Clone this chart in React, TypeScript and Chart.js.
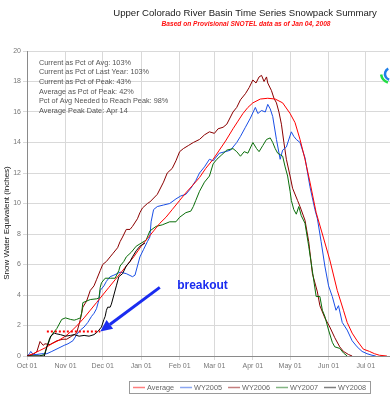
import React, { useEffect, useRef } from "react";
import { Chart, registerables } from "chart.js";

Chart.register(...registerables);

// ---- data ----
const monthTicks = [0, 31, 61, 92, 123, 151, 182, 212, 243, 273];
const monthLabels = ["Oct 01", "Nov 01", "Dec 01", "Jan 01", "Feb 01", "Mar 01", "Apr 01", "May 01", "Jun 01", "Jul 01"];
const yTicks = [0, 2, 4, 6, 8, 10, 12, 14, 16, 18, 20];

const seriesLabels = ["Average", "WY2005", "WY2006", "WY2007", "WY2008"];
const seriesColors = ["#ff0000", "#1a4fe6", "#8b0000", "#0a6e0a", "#000000"];

// [day since Oct 01, SWE inches]
const average = [
  [0, 0], [5, 0.15], [10, 0.35], [15, 0.55], [20, 0.8], [25, 1.0], [31, 1.3], [36, 1.65], [41, 2.05],
  [46, 2.5], [51, 3.0], [56, 3.5], [61, 4.0], [66, 4.5], [71, 5.0], [76, 5.5], [81, 6.0], [86, 6.5],
  [92, 7.2], [97, 7.7], [102, 8.2], [107, 8.7], [112, 9.1], [117, 9.6], [123, 10.2], [128, 10.7],
  [133, 11.15], [139, 11.7], [144, 12.3], [150, 12.9], [155, 13.5], [160, 14.1], [166, 14.9],
  [170, 15.4], [174, 15.9], [178, 16.3], [182, 16.6], [188, 16.85], [194, 16.9], [200, 16.85],
  [206, 16.6], [212, 15.9], [216, 15.3], [220, 14.2], [224, 12.9], [228, 11.4], [233, 9.4],
  [238, 8.0], [244, 6.3], [250, 4.3], [255, 3.0], [258, 2.2], [262, 1.5], [266, 1.0], [271, 0.45],
  [276, 0.3], [280, 0.15], [284, 0.05], [290, 0],
];

const wy2005 = [
  [0, 0], [2, 0.15], [3, 0.3], [5, 0.1], [8, 0.1], [12, 0.15], [16, 0.15], [20, 0.3], [25, 0.5],
  [30, 0.7], [33, 0.8], [37, 1.0], [40, 1.4], [43, 1.7], [46, 1.9], [49, 2.2], [52, 2.6], [54, 2.8],
  [56, 3.1], [58, 3.7], [59, 4.3], [62, 4.6], [64, 4.9], [67, 5.2], [70, 5.3], [75, 5.5], [80, 5.4],
  [85, 5.2], [87, 5.3], [89, 5.9], [91, 6.5], [94, 7.0], [97, 7.5], [99, 7.8], [100, 8.8], [102, 9.6],
  [105, 9.8], [110, 9.9], [115, 10.0], [120, 10.3], [124, 10.5], [128, 10.6], [132, 11.0],
  [136, 11.5], [139, 12.0], [143, 12.4], [147, 12.9], [150, 12.8], [155, 13.3], [160, 13.4],
  [164, 13.5], [169, 14.0], [172, 14.4], [176, 15.0], [180, 15.6], [184, 16.3], [186, 15.9],
  [189, 16.1], [192, 16.0], [194, 16.5], [196, 16.2], [198, 15.7], [201, 14.2], [204, 12.9],
  [206, 13.5], [209, 13.7], [213, 14.7], [215, 14.4], [217, 14.2], [220, 14.0], [224, 13.0],
  [228, 11.1], [232, 9.6], [234, 9.0], [237, 7.5], [240, 5.9], [243, 4.6], [246, 3.9], [249, 3.0],
  [251, 3.3], [254, 2.2], [258, 1.7], [262, 1.0], [266, 0.6], [270, 0.3], [274, 0.15], [278, 0.05],
  [281, 0],
];

const wy2006 = [
  [0, 0], [5, 0.1], [8, 0.3], [10.5, 0.95], [13, 0.7], [14.5, 0.8], [18.5, 0.75], [24, 1.0], [29, 1.1],
  [32, 1.1], [36, 1.3], [40, 1.5], [43, 2.4], [45, 3.2], [48, 3.6], [51, 4.3], [54, 4.6], [56, 5.0],
  [59, 5.6], [61, 6.0], [64, 6.2], [67, 6.5], [69, 6.7], [73, 7.1], [75, 7.5], [77, 7.8], [80, 8.3],
  [83, 8.3], [85, 8.5], [89, 9.0], [91, 9.4], [93, 9.7], [97, 10.0], [99, 10.1], [105, 10.6],
  [110, 11.4], [113, 12.0], [117, 12.3], [120, 12.8], [123, 13.4], [126, 13.6], [130, 13.8],
  [134, 14.0], [139, 14.2], [143, 14.5], [147, 14.7], [151, 14.6], [154, 14.9], [158, 15.0],
  [161, 15.2], [166, 16.0], [169, 16.3], [172, 16.8], [176, 17.2], [179, 17.6], [182, 18.1],
  [184.5, 17.9], [187, 18.3], [189, 18.4], [191, 18.0], [193, 18.3], [194, 17.9], [197, 17.4],
  [199, 16.9], [201, 16.6], [203, 16.0], [205, 15.2], [207, 14.0], [209, 12.9], [212, 11.8],
  [214, 11.0], [218, 10.2], [220, 9.8], [224, 8.9], [227, 7.5], [230, 5.4], [234, 4.2], [236, 3.3],
  [240, 2.5], [244, 1.9], [248, 1.2], [252, 0.6], [255, 0.3], [259, 0.1], [262, 0],
];

const wy2007 = [
  [0, 0], [10, 0], [14, 0.1], [16, 0.6], [18, 1.1], [21, 1.5], [24, 1.8], [28, 2.4], [31, 2.5],
  [35, 2.4], [38, 2.35], [40, 2.4], [43, 2.5], [44, 2.8], [45, 3.5], [48, 3.6], [51, 3.7], [56, 3.75],
  [58, 3.8], [59, 4.5], [60, 4.8], [63, 5.1], [67, 5.1], [71, 5.1], [74, 5.6], [75, 5.9], [78, 6.2],
  [80, 6.5], [84, 6.8], [88, 7.2], [92, 7.4], [96, 7.6], [99, 8.2], [104, 8.5], [109, 8.6], [115, 8.8],
  [120, 8.8], [123, 9.1], [128, 9.4], [132, 9.5], [134, 9.8], [136, 10.2], [139, 10.8], [143, 11.4],
  [147, 11.8], [150, 12.6], [153, 12.9], [157, 13.2], [161, 13.5], [166, 13.6], [169, 13.4],
  [172, 13.1], [175, 13.4], [178, 13.3], [182, 14.0], [185, 13.6], [187, 13.4], [190, 13.8],
  [193, 14.2], [196, 14.3], [198, 14.0], [200, 13.6], [202, 13.3], [204, 13.2], [206, 13.1],
  [208, 12.4], [210, 11.8], [212, 10.8], [213, 10.2], [215, 9.6], [217, 9.3], [219, 9.8], [221, 9.2],
  [224, 8.7], [227, 7.2], [229, 6.1], [233, 3.9], [236, 3.9], [238, 3.0], [240, 2.6], [243, 1.7],
  [246, 0.9], [248, 0.6], [252, 0.5], [255, 0.2], [258, 0],
];

const wy2008 = [
  [0, 0], [14, 0], [15, 0.3], [16, 0.6], [18, 1.0], [19, 1.3], [22, 1.5], [24, 1.45], [27, 1.4],
  [31, 1.3], [35, 1.35], [38, 1.4], [42, 1.3], [46, 1.35], [50, 1.3], [54, 1.4], [57, 1.6], [60, 1.9],
  [62, 2.4], [63, 2.6], [64, 3.0], [65, 3.2], [67, 3.2], [68, 3.4], [70, 4.0], [72, 4.6], [74, 5.2],
  [77, 5.4], [80, 5.9], [83, 6.2], [85, 6.5], [88, 6.9], [91, 7.2], [93, 7.3], [95, 7.4],
];

const statsLines = [
  "Current as Pct of Avg: 103%",
  "Current as Pct of Last Year: 103%",
  "Current as Pct of Peak: 43%",
  "Average as Pct of Peak: 42%",
  "Pct of Avg Needed to Reach Peak: 98%",
  "Average Peak Date: Apr 14",
];

const titleText = "Upper Colorado River Basin Time Series Snowpack Summary";
const subtitleText = "Based on Provisional SNOTEL data as of Jan 04, 2008";
const yTitleText = "Snow Water Equivalent (inches)";
const breakoutText = "breakout";

// annotation anchors in data units [day, inches]
const dottedLine = [[16, 1.6], [59, 1.6]];
const arrowTail = [107, 4.5];
const arrowTip = [59, 1.6];
const breakoutAt = [121, 4.6];

const FONT = "'Liberation Sans', Arial, sans-serif";

const allSeries = [average, wy2005, wy2006, wy2007, wy2008];

const overlayPlugin = {
  id: "overlay",
  beforeDraw(chart: any) {
    const { ctx } = chart;
    ctx.save();
    ctx.fillStyle = "#ffffff";
    ctx.fillRect(0, 0, chart.width, chart.height);
    ctx.restore();
  },
  afterDatasetsDraw(chart: any) {
    const { ctx, scales, chartArea } = chart;
    const x = scales.x;
    const y = scales.y;
    ctx.save();
    // red dotted line
    ctx.strokeStyle = "#ff0000";
    ctx.lineWidth = 2;
    ctx.setLineDash([2, 2]);
    ctx.beginPath();
    ctx.moveTo(x.getPixelForValue(dottedLine[0][0]), y.getPixelForValue(dottedLine[0][1]));
    ctx.lineTo(x.getPixelForValue(dottedLine[1][0]), y.getPixelForValue(dottedLine[1][1]));
    ctx.stroke();
    ctx.setLineDash([]);

    // arrow
    const tx = x.getPixelForValue(arrowTail[0]);
    const ty = y.getPixelForValue(arrowTail[1]);
    const hx = x.getPixelForValue(arrowTip[0]);
    const hy = y.getPixelForValue(arrowTip[1]);
    const ang = Math.atan2(hy - ty, hx - tx);
    const headLen = 12;
    const headW = 5.5;
    const bx = hx - headLen * Math.cos(ang);
    const by = hy - headLen * Math.sin(ang);
    ctx.strokeStyle = "#1a2cf0";
    ctx.fillStyle = "#1a2cf0";
    ctx.lineWidth = 3;
    ctx.beginPath();
    ctx.moveTo(tx, ty);
    ctx.lineTo(bx, by);
    ctx.stroke();
    ctx.beginPath();
    ctx.moveTo(hx, hy);
    ctx.lineTo(bx + headW * Math.sin(ang), by - headW * Math.cos(ang));
    ctx.lineTo(bx - headW * Math.sin(ang), by + headW * Math.cos(ang));
    ctx.closePath();
    ctx.fill();

    // breakout text
    ctx.font = `bold 12px ${FONT}`;
    ctx.textAlign = "left";
    ctx.textBaseline = "middle";
    ctx.fillText(breakoutText, x.getPixelForValue(breakoutAt[0]), y.getPixelForValue(breakoutAt[1]));

    // stats block
    ctx.fillStyle = "#555555";
    ctx.font = `7.3px ${FONT}`;
    statsLines.forEach((s, i) => {
      ctx.fillText(s, chartArea.left + 12, chartArea.top + 11.7 + i * 9.6);
    });
    ctx.restore();
  },
  afterDraw(chart: any) {
    const { ctx } = chart;
    ctx.save();
    ctx.textBaseline = "middle";
    ctx.textAlign = "center";
    // titles
    ctx.fillStyle = "#222222";
    ctx.font = `9.6px ${FONT}`;
    ctx.fillText(titleText, 245, 13.5);
    ctx.fillStyle = "#ff1010";
    ctx.font = `italic bold 6.6px ${FONT}`;
    ctx.fillText(subtitleText, 246, 24);

    // y title
    ctx.save();
    ctx.translate(7, 223);
    ctx.rotate(-Math.PI / 2);
    ctx.fillStyle = "#111111";
    ctx.font = `8px ${FONT}`;
    ctx.fillText(yTitleText, 0, 0);
    ctx.restore();

    // legend box (right aligned)
    ctx.font = `7.3px ${FONT}`;
    const lineLen = 12;
    const gap = 2;
    const between = 6;
    const widths = seriesLabels.map((l) => ctx.measureText(l).width);
    const total = widths.reduce((a, w) => a + lineLen + gap + w, 0) + between * (seriesLabels.length - 1);
    const boxRight = 370;
    const boxLeft = boxRight - total - 8;
    const boxTop = 381;
    const boxH = 12;
    ctx.strokeStyle = "#9a9a9a";
    ctx.lineWidth = 1;
    ctx.strokeRect(Math.round(boxLeft) + 0.5, boxTop + 0.5, Math.round(total + 8), boxH);
    let cx = boxLeft + 4;
    const cy = boxTop + boxH / 2 + 0.5;
    ctx.textAlign = "left";
    seriesLabels.forEach((l, i) => {
      ctx.globalAlpha = 0.5;
      ctx.strokeStyle = seriesColors[i];
      ctx.lineWidth = 1.5;
      ctx.beginPath();
      ctx.moveTo(cx, cy);
      ctx.lineTo(cx + lineLen, cy);
      ctx.stroke();
      ctx.globalAlpha = 1;
      cx += lineLen + gap;
      ctx.fillStyle = "#666666";
      ctx.fillText(l, cx, cy);
      cx += widths[i] + between;
    });

    // partial logo at top right
    ctx.lineWidth = 2.5;
    ctx.strokeStyle = "#1f7fe8";
    ctx.beginPath();
    ctx.arc(391, 74, 6, Math.PI * 0.6, Math.PI * 1.35);
    ctx.stroke();
    ctx.strokeStyle = "#22dd44";
    ctx.beginPath();
    ctx.arc(391, 73, 10, Math.PI * 0.6, Math.PI * 0.95);
    ctx.stroke();
    ctx.restore();
  },
};

export default function App() {
  const ref = useRef<HTMLCanvasElement | null>(null);
  useEffect(() => {
    if (!ref.current) return;
    const chart = new Chart(ref.current, {
      type: "line",
      data: {
        datasets: allSeries.map((s, i) => ({
          label: seriesLabels[i],
          data: s.map(([d, v]) => ({ x: d, y: v })),
          borderColor: seriesColors[i],
          backgroundColor: seriesColors[i],
          borderWidth: 1,
          pointRadius: 0,
          tension: 0,
          fill: false,
          order: [1, 3, 4, 2, 0][i],
        })),
      },
      options: {
        animation: false,
        responsive: false,
        devicePixelRatio: 1,
        layout: { padding: { top: 51, left: 0, right: 0, bottom: 0 } },
        plugins: { legend: { display: false }, title: { display: false }, tooltip: { enabled: false } },
        scales: {
          x: {
            type: "linear",
            min: 0,
            max: 292.5,
            afterBuildTicks: (scale: any) => {
              scale.ticks = monthTicks.map((v) => ({ value: v }));
            },
            afterFit: (scale: any) => {
              scale.height = 44;
            },
            ticks: {
              autoSkip: false,
              maxRotation: 0,
              padding: 2,
              color: "#777777",
              font: { family: FONT, size: 7 },
              callback: (v: any) => {
                const i = monthTicks.indexOf(Number(v));
                return i >= 0 ? monthLabels[i] : "";
              },
            },
            grid: { color: "#d9d9d9", lineWidth: 1, tickLength: 4, drawTicks: true },
            border: { color: "#8a8a8a", width: 1 },
          },
          y: {
            min: 0,
            max: 20,
            afterBuildTicks: (scale: any) => {
              scale.ticks = yTicks.map((v) => ({ value: v }));
            },
            afterFit: (scale: any) => {
              scale.width = 27;
            },
            ticks: {
              padding: 2,
              color: "#777777",
              font: { family: FONT, size: 7 },
              callback: (v: any) => String(v),
            },
            grid: { color: "#d9d9d9", lineWidth: 1, tickLength: 4 },
            border: { color: "#8a8a8a", width: 1 },
          },
        },
      },
      plugins: [overlayPlugin],
    });
    return () => chart.destroy();
  }, []);
  return (
    <div style={{ position: "fixed", left: 0, top: 0, width: 390, height: 400, background: "#fff" }}>
      <canvas ref={ref} width={390} height={400} style={{ display: "block" }} />
    </div>
  );
}
